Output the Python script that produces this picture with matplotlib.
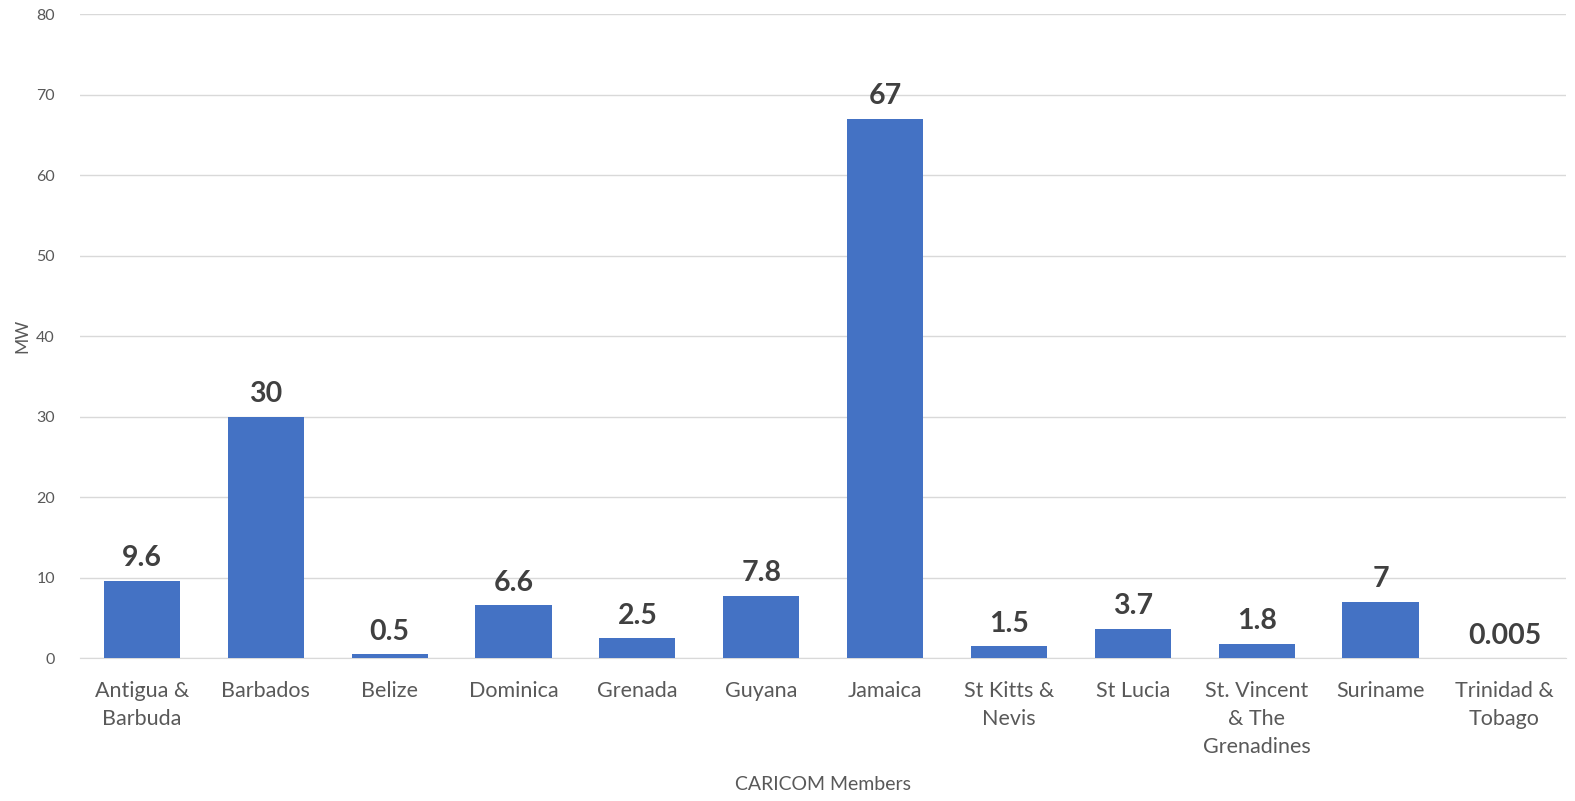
import numpy as np
import matplotlib
matplotlib.use("Agg")
import matplotlib.pyplot as plt

plt.rcParams['font.family'] = ['Lato', 'DejaVu Sans']

# data
members = ['Antigua &\nBarbuda', 'Barbados', 'Belize', 'Dominica', 'Grenada', 'Guyana',
           'Jamaica', 'St Kitts &\nNevis', 'St Lucia', 'St. Vincent\n& The\nGrenadines',
           'Suriname', 'Trinidad &\nTobago']
mw = [9.6, 30, 0.5, 6.6, 2.5, 7.8, 67, 1.5, 3.7, 1.8, 7, 0.005]
value_labels = ['9.6', '30', '0.5', '6.6', '2.5', '7.8', '67', '1.5', '3.7', '1.8', '7', '0.005']
y_ticks = [0, 10, 20, 30, 40, 50, 60, 70, 80]

fig = plt.figure(figsize=(15.75, 8.01), dpi=100)
ax = fig.add_axes([0.0508, 0.178, 0.9437, 0.8045])

x = np.arange(len(members))
bars = ax.bar(x, mw, width=0.615, color='#4472C4', zorder=3)

for xi, v, lab in zip(x, mw, value_labels):
    ax.text(xi, v + 1.2, lab, ha='center', va='bottom', fontsize=20.5,
            fontweight='bold', color='#404040')

ax.set_xlim(-0.5, len(members) - 0.5)
ax.set_ylim(0, 80)
ax.set_yticks(y_ticks)
ax.set_xticks(x)
ax.set_xticklabels(members, fontsize=15.5, color='#595959', linespacing=1.5)
ax.tick_params(axis='y', labelsize=11.5, colors='#595959', length=0, pad=18)
ax.tick_params(axis='x', length=0, pad=16)

ax.grid(axis='y', color='#D9D9D9', linewidth=1, zorder=0)
for s in ['top', 'right', 'left']:
    ax.spines[s].set_visible(False)
ax.spines['bottom'].set_color('#D9D9D9')

ax.set_ylabel('MW', fontsize=12.5, color='#595959', labelpad=4)
ax.set_xlabel('CARICOM Members', fontsize=14, color='#595959', labelpad=14)

fig.savefig('out.png', dpi=100)
